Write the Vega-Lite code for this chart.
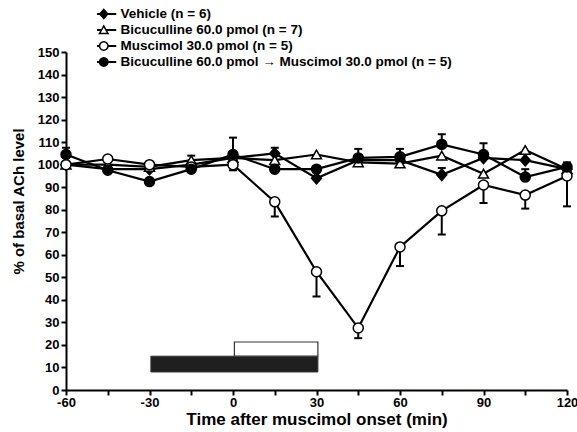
{
  "$schema": "https://vega.github.io/schema/vega-lite/v6.json",
  "autosize": {"type": "none"},
  "width": 501,
  "height": 338,
  "padding": {"left": 66, "top": 52, "right": 10, "bottom": 42},
  "config": {
    "view": {"stroke": null},
    "font": "Liberation Sans",
    "axis": {
      "grid": false,
      "domainColor": "black",
      "domainWidth": 2,
      "tickColor": "black",
      "tickWidth": 2,
      "tickSize": 5,
      "labelColor": "black",
      "labelFont": "Liberation Sans",
      "labelFontSize": 13,
      "labelFontWeight": "bold",
      "titleColor": "black",
      "titleFont": "Liberation Sans",
      "titleFontWeight": "bold"
    }
  },
  "datasets": {
    "series": [
      {"group": "Vehicle (n = 6)", "time": -60, "value": 100, "err": null},
      {"group": "Vehicle (n = 6)", "time": -45, "value": 98, "err": null},
      {"group": "Vehicle (n = 6)", "time": -30, "value": 98, "err": null},
      {"group": "Vehicle (n = 6)", "time": -15, "value": 100, "err": null},
      {"group": "Vehicle (n = 6)", "time": 0, "value": 103, "err": null},
      {"group": "Vehicle (n = 6)", "time": 15, "value": 105, "err": 107.5},
      {"group": "Vehicle (n = 6)", "time": 30, "value": 94, "err": null},
      {"group": "Vehicle (n = 6)", "time": 45, "value": 102, "err": null},
      {"group": "Vehicle (n = 6)", "time": 60, "value": 102, "err": null},
      {"group": "Vehicle (n = 6)", "time": 75, "value": 95.5, "err": 98.5},
      {"group": "Vehicle (n = 6)", "time": 90, "value": 103, "err": null},
      {"group": "Vehicle (n = 6)", "time": 105, "value": 102, "err": null},
      {"group": "Vehicle (n = 6)", "time": 120, "value": 98, "err": null},

      {"group": "Bicuculline 60.0 pmol (n = 7)", "time": -60, "value": 100, "err": null},
      {"group": "Bicuculline 60.0 pmol (n = 7)", "time": -45, "value": 100, "err": null},
      {"group": "Bicuculline 60.0 pmol (n = 7)", "time": -30, "value": 99, "err": null},
      {"group": "Bicuculline 60.0 pmol (n = 7)", "time": -15, "value": 102, "err": 104},
      {"group": "Bicuculline 60.0 pmol (n = 7)", "time": 0, "value": 103, "err": null},
      {"group": "Bicuculline 60.0 pmol (n = 7)", "time": 15, "value": 102, "err": null},
      {"group": "Bicuculline 60.0 pmol (n = 7)", "time": 30, "value": 104.5, "err": null},
      {"group": "Bicuculline 60.0 pmol (n = 7)", "time": 45, "value": 101, "err": null},
      {"group": "Bicuculline 60.0 pmol (n = 7)", "time": 60, "value": 100.5, "err": null},
      {"group": "Bicuculline 60.0 pmol (n = 7)", "time": 75, "value": 104, "err": null},
      {"group": "Bicuculline 60.0 pmol (n = 7)", "time": 90, "value": 96, "err": null},
      {"group": "Bicuculline 60.0 pmol (n = 7)", "time": 105, "value": 106.5, "err": null},
      {"group": "Bicuculline 60.0 pmol (n = 7)", "time": 120, "value": 98, "err": null},

      {"group": "Muscimol 30.0 pmol (n = 5)", "time": -60, "value": 100, "err": null},
      {"group": "Muscimol 30.0 pmol (n = 5)", "time": -45, "value": 102.5, "err": null},
      {"group": "Muscimol 30.0 pmol (n = 5)", "time": -30, "value": 100, "err": null},
      {"group": "Muscimol 30.0 pmol (n = 5)", "time": -15, "value": 99, "err": null},
      {"group": "Muscimol 30.0 pmol (n = 5)", "time": 0, "value": 100, "err": 97.5},
      {"group": "Muscimol 30.0 pmol (n = 5)", "time": 15, "value": 83.5, "err": 77},
      {"group": "Muscimol 30.0 pmol (n = 5)", "time": 30, "value": 52.5, "err": 41.5},
      {"group": "Muscimol 30.0 pmol (n = 5)", "time": 45, "value": 27.5, "err": 23},
      {"group": "Muscimol 30.0 pmol (n = 5)", "time": 60, "value": 63.5, "err": 55},
      {"group": "Muscimol 30.0 pmol (n = 5)", "time": 75, "value": 79.5, "err": 69},
      {"group": "Muscimol 30.0 pmol (n = 5)", "time": 90, "value": 91, "err": 83},
      {"group": "Muscimol 30.0 pmol (n = 5)", "time": 105, "value": 86.5, "err": 80.5},
      {"group": "Muscimol 30.0 pmol (n = 5)", "time": 120, "value": 95, "err": 81.5},

      {"group": "Bicuculline 60.0 pmol → Muscimol 30.0 pmol (n = 5)", "time": -60, "value": 104.5, "err": 107.5},
      {"group": "Bicuculline 60.0 pmol → Muscimol 30.0 pmol (n = 5)", "time": -45, "value": 97.5, "err": null},
      {"group": "Bicuculline 60.0 pmol → Muscimol 30.0 pmol (n = 5)", "time": -30, "value": 92.5, "err": null},
      {"group": "Bicuculline 60.0 pmol → Muscimol 30.0 pmol (n = 5)", "time": -15, "value": 98, "err": null},
      {"group": "Bicuculline 60.0 pmol → Muscimol 30.0 pmol (n = 5)", "time": 0, "value": 104.5, "err": 112},
      {"group": "Bicuculline 60.0 pmol → Muscimol 30.0 pmol (n = 5)", "time": 15, "value": 98, "err": null},
      {"group": "Bicuculline 60.0 pmol → Muscimol 30.0 pmol (n = 5)", "time": 30, "value": 98, "err": null},
      {"group": "Bicuculline 60.0 pmol → Muscimol 30.0 pmol (n = 5)", "time": 45, "value": 103, "err": 107},
      {"group": "Bicuculline 60.0 pmol → Muscimol 30.0 pmol (n = 5)", "time": 60, "value": 103.5, "err": 107},
      {"group": "Bicuculline 60.0 pmol → Muscimol 30.0 pmol (n = 5)", "time": 75, "value": 109, "err": 113.5},
      {"group": "Bicuculline 60.0 pmol → Muscimol 30.0 pmol (n = 5)", "time": 90, "value": 104.5, "err": 109.5},
      {"group": "Bicuculline 60.0 pmol → Muscimol 30.0 pmol (n = 5)", "time": 105, "value": 94.5, "err": 98},
      {"group": "Bicuculline 60.0 pmol → Muscimol 30.0 pmol (n = 5)", "time": 120, "value": 99, "err": 101}
    ],
    "bars": [
      {"drug": "bicuculline", "start": -29.5, "end": 30.5, "low": 8, "high": 15},
      {"drug": "muscimol", "start": 0.5, "end": 30.5, "low": 15, "high": 21.3}
    ]
  },
  "resolve": {"scale": {"shape": "independent", "fill": "independent"}},
  "layer": [
    {
      "data": {"name": "series"},
      "mark": {"type": "line", "color": "black", "strokeWidth": 2.2},
      "encoding": {
        "x": {
          "field": "time", "type": "quantitative",
          "scale": {"domain": [-60, 120], "nice": false, "zero": false},
          "axis": {
            "title": "Time after muscimol onset (min)",
            "titleFontSize": 17,
            "titlePadding": 2,
            "tickCount": 36,
            "tickOpacity": {"condition": {"test": "datum.value % 15 === 0", "value": 1}, "value": 0},
            "labelExpr": "datum.value % 30 === 0 ? '' + datum.value : ''",
            "labelPadding": 1,
            "labelFlush": false,
            "labelOverlap": false
          }
        },
        "y": {
          "field": "value", "type": "quantitative",
          "scale": {"domain": [0, 150], "nice": false},
          "axis": {
            "title": "% of basal ACh level",
            "titleFontSize": 15,
            "titleBaseline": "middle",
            "titleX": -48,
            "titleY": 149,
            "tickCount": 15,
            "labelOverlap": false,
            "labelPadding": 2
          }
        },
        "detail": {"field": "group", "type": "nominal"}
      }
    },
    {
      "data": {"name": "bars"},
      "transform": [{"filter": "datum.drug === 'bicuculline'"}],
      "mark": {"type": "rect", "fill": "#1f1f1f", "stroke": "#333", "strokeWidth": 1},
      "encoding": {
        "x": {"field": "start", "type": "quantitative"},
        "x2": {"field": "end"},
        "y": {"field": "low", "type": "quantitative"},
        "y2": {"field": "high"}
      }
    },
    {
      "data": {"name": "bars"},
      "transform": [{"filter": "datum.drug === 'muscimol'"}],
      "mark": {"type": "rect", "fill": "white", "stroke": "#333", "strokeWidth": 1.2},
      "encoding": {
        "x": {"field": "start", "type": "quantitative"},
        "x2": {"field": "end"},
        "y": {"field": "low", "type": "quantitative"},
        "y2": {"field": "high"}
      }
    },
    {
      "data": {"name": "series"},
      "transform": [{"filter": "datum.err != null"}],
      "mark": {"type": "rule", "color": "black", "strokeWidth": 2},
      "encoding": {
        "x": {"field": "time", "type": "quantitative"},
        "y": {"field": "value", "type": "quantitative"},
        "y2": {"field": "err"}
      }
    },
    {
      "data": {"name": "series"},
      "transform": [{"filter": "datum.err != null"}],
      "mark": {"type": "point", "shape": "stroke", "filled": false, "color": "black", "strokeWidth": 2, "size": 64, "opacity": 1},
      "encoding": {
        "x": {"field": "time", "type": "quantitative"},
        "y": {"field": "err", "type": "quantitative"}
      }
    },
    {
      "data": {"name": "series"},
      "mark": {"type": "point", "filled": true, "stroke": "black", "strokeWidth": 1.5, "size": 100, "opacity": 1},
      "encoding": {
        "x": {"field": "time", "type": "quantitative"},
        "y": {"field": "value", "type": "quantitative"},
        "shape": {
          "field": "group", "type": "nominal", "legend": null,
          "scale": {
            "domain": ["Vehicle (n = 6)", "Bicuculline 60.0 pmol (n = 7)", "Muscimol 30.0 pmol (n = 5)", "Bicuculline 60.0 pmol → Muscimol 30.0 pmol (n = 5)"],
            "range": ["M0,-1.15L1,0L0,1.15L-1,0Z", "triangle-up", "circle", "circle"]
          }
        },
        "fill": {
          "field": "group", "type": "nominal", "legend": null,
          "scale": {
            "domain": ["Vehicle (n = 6)", "Bicuculline 60.0 pmol (n = 7)", "Muscimol 30.0 pmol (n = 5)", "Bicuculline 60.0 pmol → Muscimol 30.0 pmol (n = 5)"],
            "range": ["black", "white", "white", "black"]
          }
        }
      }
    },
    {
      "data": {"name": "series"},
      "transform": [{"filter": "datum.time === -60"}],
      "mark": {"type": "point", "filled": true, "color": "black", "opacity": 1, "size": 0},
      "encoding": {
        "x": {"field": "time", "type": "quantitative"},
        "y": {"field": "value", "type": "quantitative"},
        "shape": {
          "field": "group", "type": "nominal",
          "scale": {
            "domain": ["Vehicle (n = 6)", "Bicuculline 60.0 pmol (n = 7)", "Muscimol 30.0 pmol (n = 5)", "Bicuculline 60.0 pmol → Muscimol 30.0 pmol (n = 5)"],
            "range": [
              "M-2.5,-0.2H-0.8V0.2H-2.5Z M0.8,-0.2H2.5V0.2H0.8Z M0,-1.15L1,0L0,1.15L-1,0Z",
              "M-2.5,-0.2H-0.5V0.2H-2.5Z M0.5,-0.2H2.5V0.2H0.5Z M0,-1.1L1.1,0.85L-1.1,0.85Z M0,-0.49L-0.59,0.55L0.59,0.55Z",
              "M-2.5,-0.2H-0.85V0.2H-2.5Z M0.85,-0.2H2.5V0.2H0.85Z M1,0L0.924,0.383L0.707,0.707L0.383,0.924L0,1L-0.383,0.924L-0.707,0.707L-0.924,0.383L-1,0L-0.924,-0.383L-0.707,-0.707L-0.383,-0.924L0,-1L0.383,-0.924L0.707,-0.707L0.924,-0.383Z M0.7,0L0.647,-0.268L0.495,-0.495L0.268,-0.647L0,-0.7L-0.268,-0.647L-0.495,-0.495L-0.647,-0.268L-0.7,0L-0.647,0.268L-0.495,0.495L-0.268,0.647L0,0.7L0.268,0.647L0.495,0.495L0.647,0.268Z",
              "M-2.5,-0.2H-0.85V0.2H-2.5Z M0.85,-0.2H2.5V0.2H0.85Z M1,0L0.924,0.383L0.707,0.707L0.383,0.924L0,1L-0.383,0.924L-0.707,0.707L-0.924,0.383L-1,0L-0.924,-0.383L-0.707,-0.707L-0.383,-0.924L0,-1L0.383,-0.924L0.707,-0.707L0.924,-0.383Z"
            ]
          },
          "legend": {
            "title": null,
            "orient": "none",
            "legendX": 31,
            "legendY": -45,
            "padding": 0,
            "rowPadding": 2,
            "clipHeight": 14,
            "labelFont": "Liberation Sans",
            "labelFontSize": 13.5,
            "labelFontWeight": "bold",
            "labelColor": "black",
            "labelOffset": 10,
            "labelLimit": 0,
            "symbolSize": 100,
            "symbolFillColor": "black",
            "symbolOpacity": 1
          }
        }
      }
    }
  ]
}
